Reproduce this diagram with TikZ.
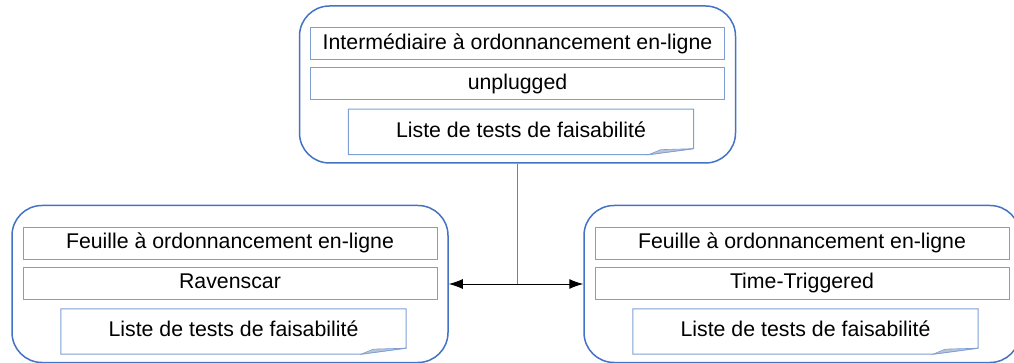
\documentclass[tikz,border=0pt]{standalone}
\usepackage{fontspec}
\setmainfont{Liberation Sans}
\usetikzlibrary{positioning, arrows.meta}
\definecolor{frameblue}{HTML}{4472C4}
\definecolor{rowblue}{HTML}{7E9FD4}
\definecolor{foldgray}{HTML}{B8C4D8}
\definecolor{linegray}{HTML}{7F7F7F}

\begin{document}
\begin{tikzpicture}[x=1pt, y=-1pt,
  font=\fontsize{21.3}{25}\selectfont,
  group/.style={draw=frameblue, line width=1.5pt, rounded corners=30pt,
    minimum width=436pt, minimum height=157pt, inner sep=0pt},
  row/.style={draw=rowblue, line width=1pt, minimum width=414pt,
    minimum height=32pt, inner sep=0pt, text height=15.5pt, text depth=4.5pt},
  note/.style={minimum width=345pt, minimum height=45pt, inner sep=0pt,
    text height=15.5pt, text depth=4.5pt},
  link/.style={line width=1pt}]
  \clip (0,0) rectangle (1014,363);

  % the three groups
  \node[group] (top) at (517.5,84.5) {};
  \node[group] (left) at (230,284) {};
  \node[group] (right) at (802,284) {};

  % contents of each group
  \node[row, below=22pt of top.north] (toptype) {Intermédiaire à ordonnancement en-ligne};
  \node[row, below=7pt of toptype] (topname) {unplugged};
  \node[note, below=9pt of topname, xshift=3.5pt] (topnote) {Liste de tests de faisabilité};

  \node[row, below=22pt of left.north] (lefttype) {Feuille à ordonnancement en-ligne};
  \node[row, below=7pt of lefttype] (leftname) {Ravenscar};
  \node[note, below=9pt of leftname, xshift=3.5pt] (leftnote) {Liste de tests de faisabilité};

  \node[row, below=22pt of right.north] (righttype) {Feuille à ordonnancement en-ligne};
  \node[row, below=7pt of righttype] (rightname) {Time-Triggered};
  \node[note, below=9pt of rightname, xshift=3.5pt] (rightnote) {Liste de tests de faisabilité};

  % note outlines with folded corner
  \foreach \n in {topnote, leftnote, rightnote}{
    \draw[draw=rowblue, line width=1pt] (\n.north west) -- (\n.north east)
      -- ([yshift=6pt]\n.south east) -- ([xshift=-45pt]\n.south east)
      -- (\n.south west) -- cycle;
    \filldraw[draw=rowblue, fill=foldgray, line width=0.6pt]
      ([yshift=6pt]\n.south east) -- ([xshift=-33pt, yshift=5pt]\n.south east)
      -- ([xshift=-45pt]\n.south east) -- cycle;
  }

  % connectors
  \coordinate (fork) at (top.south |- left.east);
  \draw[link, draw=linegray] (top.south) -- (fork);
  \draw[link, -{Latex[length=14pt, width=10pt]}] (fork) -- (left.east);
  \draw[link, -{Latex[length=14pt, width=10pt]}] (fork) -- (right.west);
\end{tikzpicture}
\end{document}
